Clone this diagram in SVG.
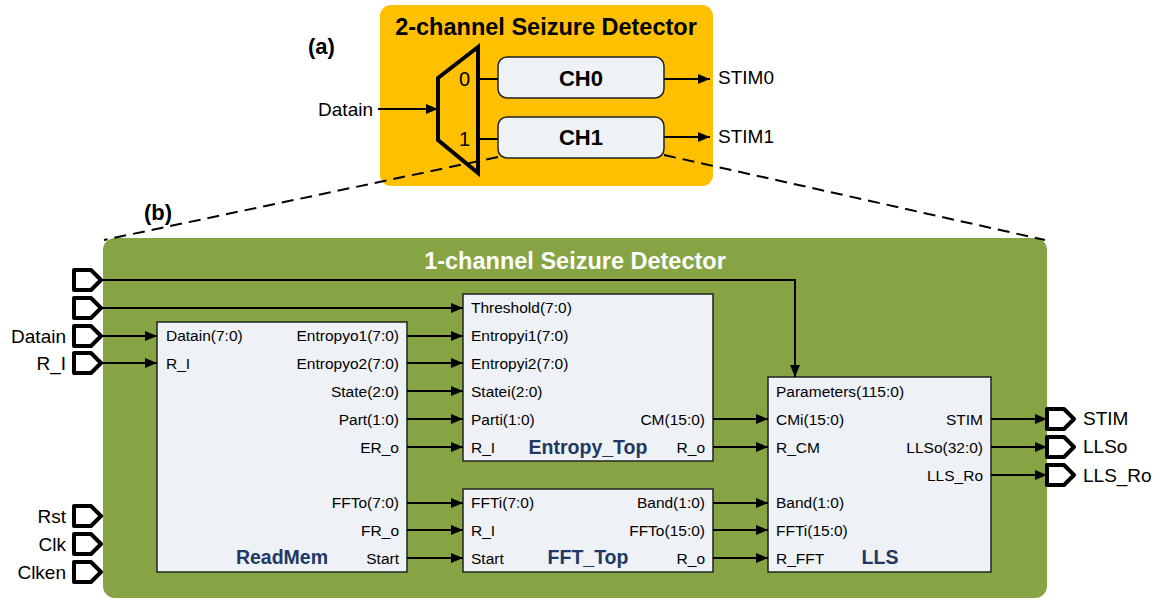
<svg xmlns="http://www.w3.org/2000/svg" width="1164" height="601" viewBox="0 0 1164 601">
<defs>
<marker id="ah" viewBox="0 0 12 10" refX="12" refY="5" markerWidth="12" markerHeight="10" markerUnits="userSpaceOnUse" orient="auto">
<path d="M0,0 L12,5 L0,10 Z" fill="#000"/>
</marker>
<style>
text{font-family:"Liberation Sans",Arial,sans-serif;fill:#000}
.p{font-size:15.5px}
.pr{font-size:15.5px;text-anchor:end}
.big{font-size:19px}
.bigr{font-size:19px;text-anchor:end}
.blk{font-size:19.5px;font-weight:bold;fill:#1F3864}
.box{fill:#EEF1F6;stroke:#222;stroke-width:1.5}
.w{stroke:#000;stroke-width:2;fill:none}
.port{fill:#fff;stroke:#000;stroke-width:4;stroke-linejoin:round}
.dash{stroke:#000;stroke-width:2;stroke-dasharray:12 7;fill:none}
</style>
</defs>

<g id="outer2ch">
<rect x="380" y="5" width="333" height="181" rx="11" fill="#FFC000"/>
<text x="546" y="35" text-anchor="middle" font-size="23.5" font-weight="bold">2-channel Seizure Detector</text>
</g>
<text x="308" y="54" font-size="22" font-weight="bold">(a)</text>
<text x="144" y="220" font-size="22" font-weight="bold">(b)</text>

<g id="mux">
<path d="M438,78 L478,47 L478,173 L438,140 Z" fill="none" stroke="#000" stroke-width="4" stroke-linejoin="miter"/>
<text x="470" y="86" text-anchor="end" font-size="20">0</text>
<text x="470" y="146" text-anchor="end" font-size="20">1</text>
</g>
<g id="ch0">
<rect x="498" y="57" width="166" height="41" rx="9" fill="#EEF1F6" stroke="#222" stroke-width="1.5"/>
<text x="581" y="86" text-anchor="middle" font-size="22" font-weight="bold">CH0</text>
</g>
<g id="ch1">
<rect x="498" y="117" width="166" height="41" rx="9" fill="#EEF1F6" stroke="#222" stroke-width="1.5"/>
<text x="581" y="145" text-anchor="middle" font-size="22" font-weight="bold">CH1</text>
</g>
<text x="373" y="116" class="bigr">Datain</text>
<text x="718" y="84" font-size="19">STIM0</text>
<text x="718" y="143" font-size="19">STIM1</text>

<g id="green">
<rect x="103" y="238" width="944" height="360" rx="12" fill="#86A444"/>
<text x="575" y="269" text-anchor="middle" font-size="23.5" font-weight="bold" style="fill:#fff">1-channel Seizure Detector</text>
</g>

<g id="readmem">
<rect class="box" x="157" y="322" width="250" height="250"/>
<text class="p" x="166" y="341">Datain(7:0)</text>
<text class="p" x="166" y="369">R_I</text>
<text class="pr" x="399" y="341">Entropyo1(7:0)</text>
<text class="pr" x="399" y="369">Entropyo2(7:0)</text>
<text class="pr" x="399" y="397">State(2:0)</text>
<text class="pr" x="399" y="425">Part(1:0)</text>
<text class="pr" x="399" y="453">ER_o</text>
<text class="pr" x="399" y="508">FFTo(7:0)</text>
<text class="pr" x="399" y="536">FR_o</text>
<text class="pr" x="399" y="564">Start</text>
<text class="blk" x="282" y="564" text-anchor="middle">ReadMem</text>
</g>

<g id="entropy">
<rect class="box" x="463" y="294" width="250" height="167"/>
<text class="p" x="471" y="313">Threshold(7:0)</text>
<text class="p" x="471" y="341">Entropyi1(7:0)</text>
<text class="p" x="471" y="369">Entropyi2(7:0)</text>
<text class="p" x="471" y="397">Statei(2:0)</text>
<text class="p" x="471" y="425">Parti(1:0)</text>
<text class="p" x="471" y="453">R_I</text>
<text class="pr" x="705" y="425">CM(15:0)</text>
<text class="pr" x="705" y="453">R_o</text>
<text class="blk" x="588" y="454" text-anchor="middle">Entropy_Top</text>
</g>

<g id="fft">
<rect class="box" x="463" y="489" width="250" height="83"/>
<text class="p" x="471" y="508">FFTi(7:0)</text>
<text class="p" x="471" y="536">R_I</text>
<text class="p" x="471" y="564">Start</text>
<text class="pr" x="705" y="508">Band(1:0)</text>
<text class="pr" x="705" y="536">FFTo(15:0)</text>
<text class="pr" x="705" y="564">R_o</text>
<text class="blk" x="588" y="564" text-anchor="middle">FFT_Top</text>
</g>

<g id="lls">
<rect class="box" x="768" y="377" width="223" height="195"/>
<text class="p" x="776" y="397">Parameters(115:0)</text>
<text class="p" x="776" y="425">CMi(15:0)</text>
<text class="p" x="776" y="453">R_CM</text>
<text class="p" x="776" y="508">Band(1:0)</text>
<text class="p" x="776" y="536">FFTi(15:0)</text>
<text class="p" x="776" y="564">R_FFT</text>
<text class="pr" x="983" y="425">STIM</text>
<text class="pr" x="983" y="453">LLSo(32:0)</text>
<text class="pr" x="983" y="481">LLS_Ro</text>
<text class="blk" x="880" y="564" text-anchor="middle">LLS</text>
</g>

<g id="ports">
<path class="port" d="M74,270 L91,270 L101,280 L91,290 L74,290 Z"/>
<path class="port" d="M74,298 L91,298 L101,308 L91,318 L74,318 Z"/>
<path class="port" d="M74,326 L91,326 L101,336 L91,346 L74,346 Z"/>
<path class="port" d="M74,353 L91,353 L101,363 L91,373 L74,373 Z"/>
<path class="port" d="M74,506 L91,506 L101,516 L91,526 L74,526 Z"/>
<path class="port" d="M74,534 L91,534 L101,544 L91,554 L74,554 Z"/>
<path class="port" d="M74,562 L91,562 L101,572 L91,582 L74,582 Z"/>
<path class="port" d="M1047,409 L1064,409 L1074,419 L1064,429 L1047,429 Z"/>
<path class="port" d="M1047,437 L1064,437 L1074,447 L1064,457 L1047,457 Z"/>
<path class="port" d="M1047,465 L1064,465 L1074,475 L1064,485 L1047,485 Z"/>
<text class="bigr" x="66" y="343">Datain</text>
<text class="bigr" x="66" y="370">R_I</text>
<text class="bigr" x="66" y="523">Rst</text>
<text class="bigr" x="66" y="551">Clk</text>
<text class="bigr" x="66" y="579">Clken</text>
<text class="big" x="1083" y="425">STIM</text>
<text class="big" x="1083" y="453">LLSo</text>
<text class="big" x="1083" y="482">LLS_Ro</text>
</g>

<g id="connectors">
<line class="w" x1="378" y1="109" x2="438" y2="109" marker-end="url(#ah)"/>
<line class="w" x1="478" y1="79" x2="498" y2="79"/>
<line class="w" x1="478" y1="139" x2="498" y2="139"/>
<line class="w" x1="664" y1="79" x2="710" y2="79" marker-end="url(#ah)"/>
<line class="w" x1="664" y1="137" x2="710" y2="137" marker-end="url(#ah)"/>
<path class="dash" d="M498,157 L104,240"/>
<path class="dash" d="M664,155 L1045,240"/>

<path class="w" d="M101,280 L795,280 L795,377" marker-end="url(#ah)"/>
<line class="w" x1="101" y1="308" x2="463" y2="308" marker-end="url(#ah)"/>
<line class="w" x1="101" y1="336" x2="157" y2="336" marker-end="url(#ah)"/>
<line class="w" x1="101" y1="363" x2="157" y2="363" marker-end="url(#ah)"/>

<line class="w" x1="407" y1="336" x2="463" y2="336" marker-end="url(#ah)"/>
<line class="w" x1="407" y1="363" x2="463" y2="363" marker-end="url(#ah)"/>
<line class="w" x1="407" y1="391" x2="463" y2="391" marker-end="url(#ah)"/>
<line class="w" x1="407" y1="419" x2="463" y2="419" marker-end="url(#ah)"/>
<line class="w" x1="407" y1="447" x2="463" y2="447" marker-end="url(#ah)"/>
<line class="w" x1="407" y1="503" x2="463" y2="503" marker-end="url(#ah)"/>
<line class="w" x1="407" y1="530" x2="463" y2="530" marker-end="url(#ah)"/>
<line class="w" x1="407" y1="558" x2="463" y2="558" marker-end="url(#ah)"/>

<line class="w" x1="713" y1="419" x2="768" y2="419" marker-end="url(#ah)"/>
<line class="w" x1="713" y1="447" x2="768" y2="447" marker-end="url(#ah)"/>
<line class="w" x1="713" y1="503" x2="768" y2="503" marker-end="url(#ah)"/>
<line class="w" x1="713" y1="530" x2="768" y2="530" marker-end="url(#ah)"/>
<line class="w" x1="713" y1="558" x2="768" y2="558" marker-end="url(#ah)"/>

<line class="w" x1="991" y1="419" x2="1047" y2="419" marker-end="url(#ah)"/>
<line class="w" x1="991" y1="447" x2="1047" y2="447" marker-end="url(#ah)"/>
<line class="w" x1="991" y1="475" x2="1047" y2="475" marker-end="url(#ah)"/>
</g>
</svg>
